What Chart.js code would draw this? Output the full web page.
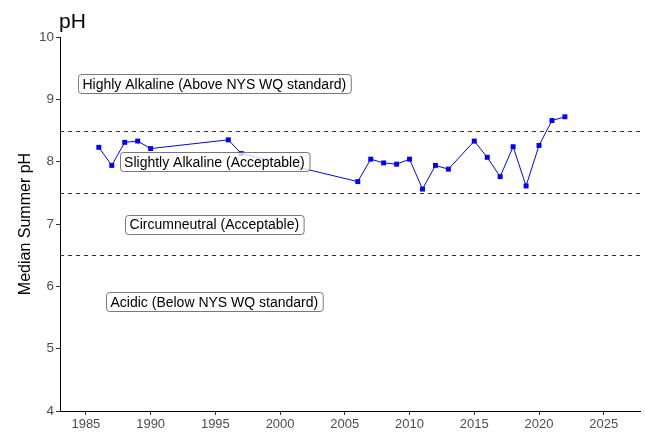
<!DOCTYPE html>
<html>
<head>
<meta charset="utf-8">
<script src="https://cdn.jsdelivr.net/npm/chart.js@4.4.1/dist/chart.umd.min.js"></script>
<style>
  html, body { margin: 0; padding: 0; background: #fff; }
  #wrap { width: 645px; height: 436px; }
</style>
</head>
<body>
<div id="wrap"><canvas id="phChart" width="645" height="436"></canvas></div>
<script>
/*  Data  */

const years = [1986, 1987, 1988, 1989, 1990, 1996, 1997, 2006, 2007, 2008, 2009, 2010,
               2011, 2012, 2013, 2015, 2016, 2017, 2018, 2019, 2020, 2021, 2022];
const medianPH = [8.23, 7.94, 8.31, 8.33, 8.21, 8.35, 8.13, 7.68, 8.04, 7.98, 7.96, 8.04,
                  7.56, 7.94, 7.88, 8.33, 8.07, 7.76, 8.24, 7.61, 8.26, 8.66, 8.72];

const xTicks = [1985, 1990, 1995, 2000, 2005, 2010, 2015, 2020, 2025];
const yTicks = [4, 5, 6, 7, 8, 9, 10];

const thresholds = [8.5, 7.5, 6.5];

const zoneLabels = ["Highly Alkaline (Above NYS WQ standard)", "Slightly Alkaline (Acceptable)",
                    "Circumneutral (Acceptable)", "Acidic (Below NYS WQ standard)"];
const zoneLabelX = [1995, 1995, 1995, 1995];
const zoneLabelY = [9.25, 8.0, 7.0, 5.75];


/*  Annotations  */

const FONT = "'Liberation Sans', Arial, sans-serif";

const annotations = {
    id: "annotations",
    beforeDatasetsDraw(chart) {
        const {ctx, chartArea, scales: {y}} = chart;
        ctx.save();
        ctx.strokeStyle = "#333";
        ctx.lineWidth = 1;
        ctx.setLineDash([4, 4]);
        thresholds.forEach(t => {
            let py = Math.round(y.getPixelForValue(t)) + 0.5;
            ctx.beginPath();
            ctx.moveTo(chartArea.left, py);
            ctx.lineTo(chartArea.right, py);
            ctx.stroke();
        });
        ctx.restore();
    },
    afterDatasetsDraw(chart) {
        const {ctx, scales: {x, y}} = chart;
        ctx.save();
        ctx.font = "14px " + FONT;
        ctx.textAlign = "center";
        ctx.textBaseline = "middle";
        zoneLabels.forEach((txt, i) => {
            let cx = x.getPixelForValue(zoneLabelX[i]) - 1;
            let cy = y.getPixelForValue(zoneLabelY[i]);
            let w = ctx.measureText(txt).width + 9;
            let h = 19;
            let bx = Math.round(cx - w / 2) + 0.5, by = Math.round(cy - h / 2) + 0.5;
            ctx.beginPath();
            ctx.roundRect(bx, by, w, h, 3);
            ctx.fillStyle = "rgba(255,255,255,0.8)";
            ctx.fill();
            ctx.strokeStyle = "#555";
            ctx.lineWidth = 0.8;
            ctx.stroke();
            ctx.fillStyle = "#000";
            ctx.fillText(txt, cx, cy + 1);
        });

        // chart title
        ctx.font = "21px " + FONT;
        ctx.textAlign = "left";
        ctx.textBaseline = "alphabetic";
        ctx.fillText("pH", 59, 28);
        ctx.restore();
    }
};


/*  Chart  */

new Chart(document.getElementById("phChart"), {
    type: "line",
    data: {
        datasets: [{
            label: "Median Summer pH",
            data: years.map((yr, i) => ({x: yr, y: medianPH[i]})),
            borderColor: "#0000ff",
            backgroundColor: "#0000ff",
            borderWidth: 1,
            pointStyle: "rect",
            pointRadius: 3.5,
            pointBorderWidth: 0,
            tension: 0
        }]
    },
    options: {
        responsive: false,
        animation: false,
        layout: { padding: { left: 0, top: 37, right: 5, bottom: 0 } },
        plugins: {
            legend: { display: false },
            tooltip: { enabled: false }
        },
        scales: {
            x: {
                type: "linear",
                min: 1983,
                max: 2027.8,
                afterBuildTicks: s => { s.ticks = xTicks.map(v => ({value: v})); },
                afterFit: s => { s.height = 25; },
                ticks: {
                    color: "#4d4d4d",
                    font: { family: FONT, size: 13 },
                    padding: 2,
                    maxRotation: 0,
                    callback: v => String(v)
                },
                grid: { drawOnChartArea: false, drawTicks: true, tickLength: 4, color: "#333" },
                border: { color: "#000", width: 1 }
            },
            y: {
                min: 4,
                max: 10,
                afterBuildTicks: s => { s.ticks = yTicks.map(v => ({value: v})); },
                afterFit: s => { s.width = 60; },
                ticks: {
                    color: "#4d4d4d",
                    font: { family: FONT, size: 13.5 },
                    padding: 2
                },
                grid: { drawOnChartArea: false, drawTicks: true, tickLength: 4, color: "#333" },
                border: { color: "#000", width: 1 },
                title: {
                    display: true,
                    text: "Median Summer pH",
                    color: "#000",
                    font: { family: FONT, size: 16 },
                    padding: { top: 16, bottom: 0 }
                }
            }
        }
    },
    plugins: [annotations]
});
</script>
</body>
</html>
